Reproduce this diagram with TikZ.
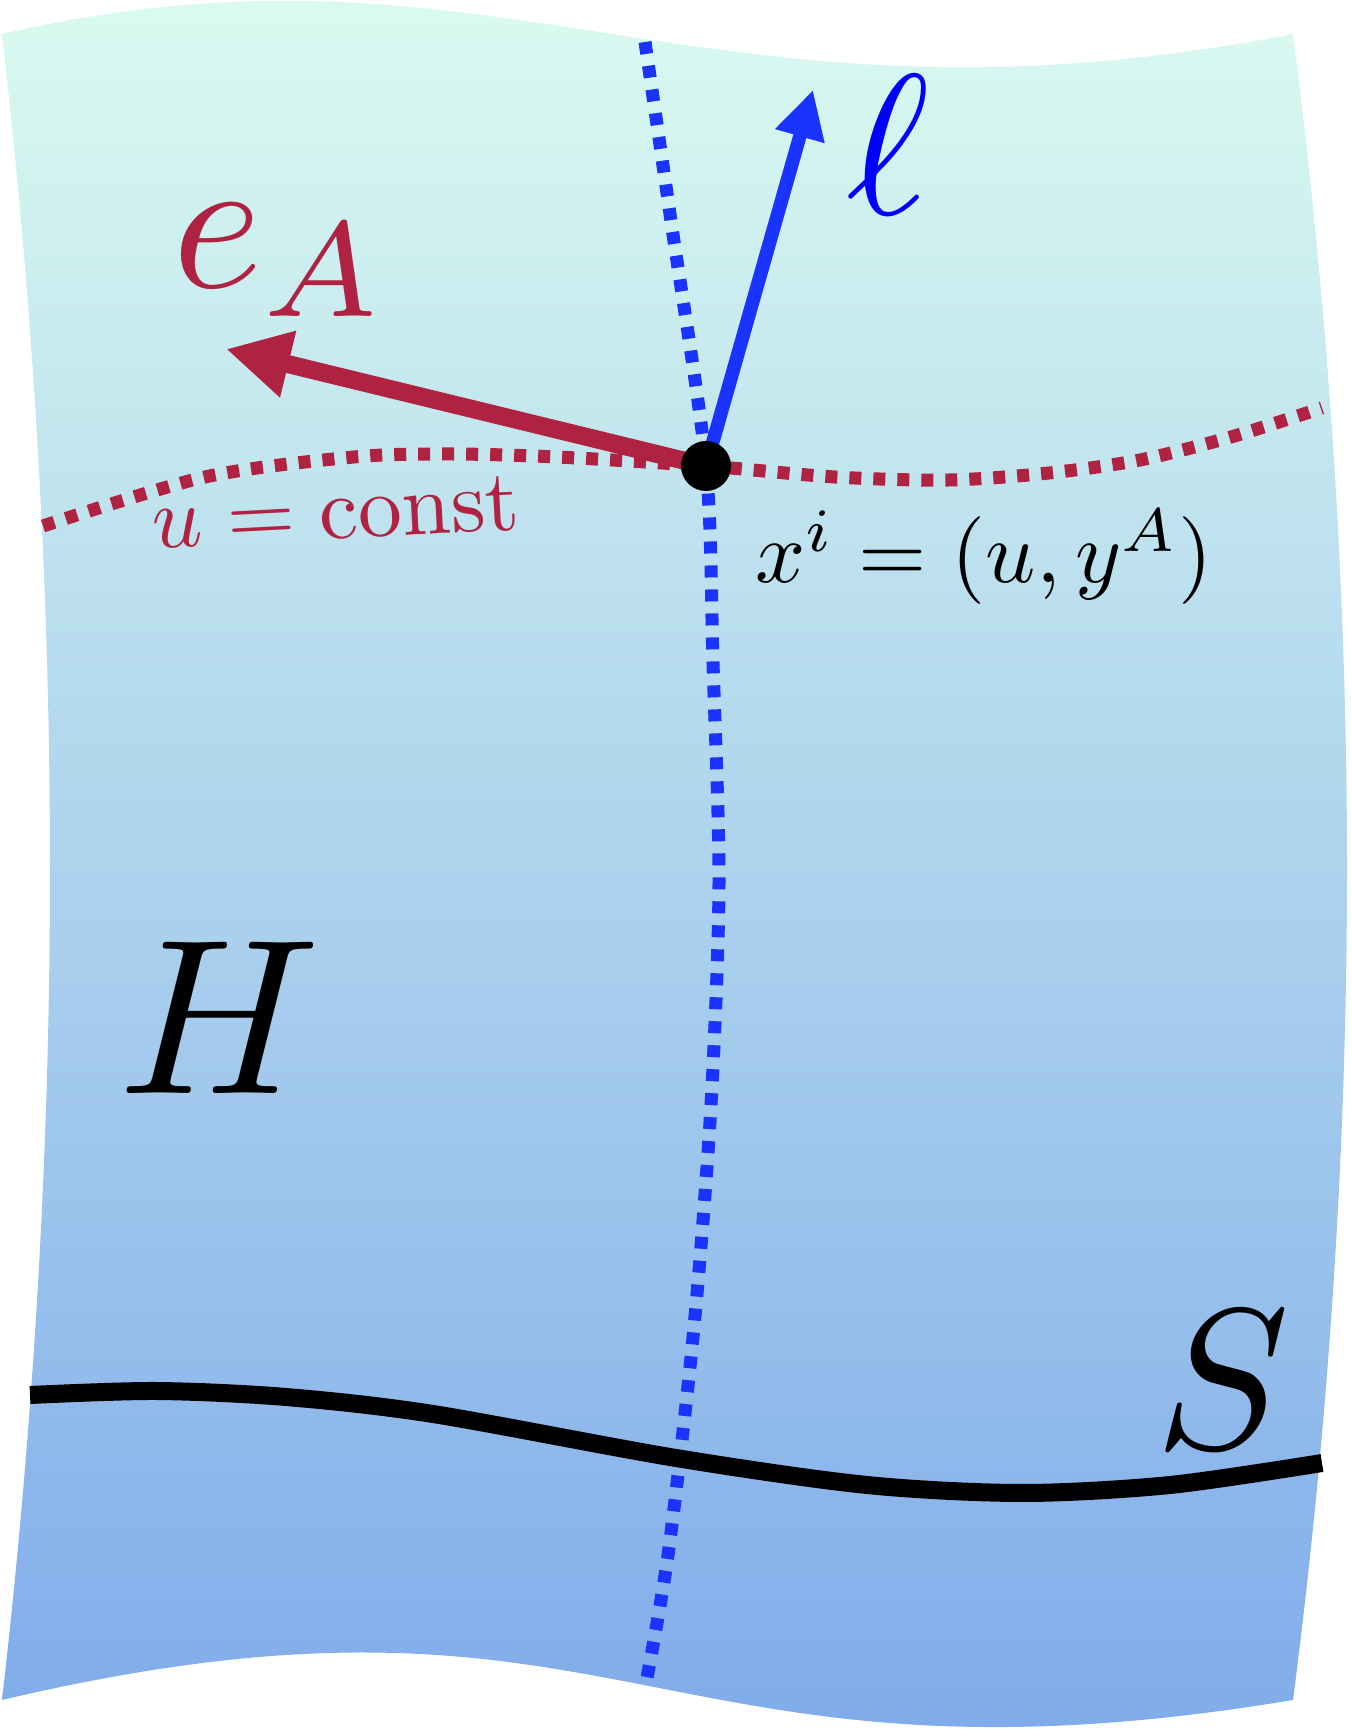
\documentclass[tikz,border=0pt]{standalone}
\usetikzlibrary{arrows.meta}
\definecolor{crimson}{RGB}{176,34,66}
\definecolor{lblue}{RGB}{26,51,255}
\definecolor{sheettop}{RGB}{222,254,240}
\definecolor{sheetbot}{RGB}{124,168,234}
\begin{document}
\begin{tikzpicture}
[dotline/.style={line width=0.13cm,dash pattern=on 0.12cm off 0.12cm},
 vec/.style={-{Triangle[length=#1,width=#1]}}]
\useasboundingbox (0,0) rectangle (13.52,17.34);

\shade[top color=sheettop,bottom color=sheetbot] (0.02,17) .. controls (5,18.15) and (7,15.85) .. (12.93,17)
  .. controls (13.65,11.4) and (13.65,5.9) .. (12.93,0.34)
  .. controls (6.5,-0.73) and (6.3,1.82) .. (0.02,0.34)
  .. controls (0.66,5.9) and (0.66,11.4) .. cycle;

\draw[lblue,dotline] plot[smooth] coordinates {(6.45,16.92) (6.71,15.13) (7.06,12.68) (7.13,10.71) (7.19,8.50) (7.11,6.29) (6.94,4.07) (6.69,1.86) (6.47,0.56)};
\draw[line width=0.18cm] plot[smooth] coordinates {(0.30,3.39) (1.56,3.43) (2.86,3.37) (4.33,3.20) (6.76,2.76) (8.67,2.49) (10.23,2.41) (11.70,2.49) (13.22,2.71)};
\draw[crimson,dotline] plot[smooth] coordinates {(0.43,12.08) (2.05,12.57) (3.54,12.77) (4.50,12.80) (5.57,12.77) (7.06,12.68) (8.35,12.57) (9.49,12.54) (10.49,12.61) (11.40,12.74) (12.31,12.97) (13.22,13.26)};

\coordinate (P) at (7.06,12.68);
\coordinate (etip) at (2.26,13.85);
\coordinate (ltip) at (8.13,16.44);
\draw[crimson,line width=0.18cm,vec=0.64cm] (P) -- (etip);
\draw[lblue,line width=0.135cm,vec=0.48cm] (P) -- (ltip);
\node[circle,fill=black,inner sep=0pt,minimum size=0.5cm] (dot) at (P) {};

\node[blue,scale=5.7] (ell) at (8.88,15.89) {$\ell$};
\node[crimson,scale=5.5] (eA) at (2.80,14.74) {$e_A$};
\node[crimson,scale=2.5,rotate=3] (uconst) at (3.36,12.22) {$u=\mathrm{const}$};
\node[scale=2.5] (xi) at (9.84,11.77) {$x^i=(u,y^A)$};
\node[scale=6.3] (H) at (2.20,7.16) {$H$};
\node[scale=5.7] (S) at (12.23,3.54) {$S$};
\end{tikzpicture}
\end{document}
